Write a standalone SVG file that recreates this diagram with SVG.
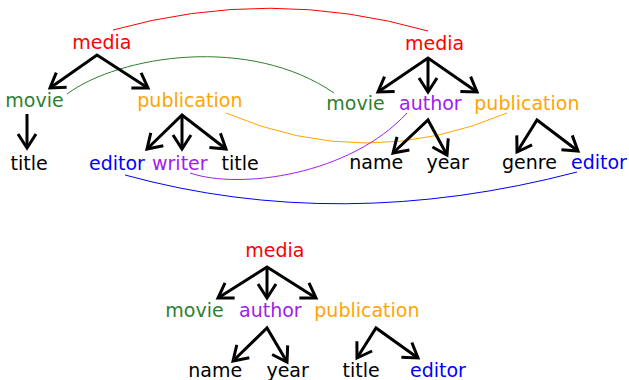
<svg xmlns="http://www.w3.org/2000/svg" width="629" height="380" viewBox="0 0 629 380">
<style>
text{font-family:"DejaVu Sans",sans-serif;font-size:19px}
.k{fill:#000}.r{fill:#ff0000}.g{fill:#2f7f2f}.o{fill:#ffa500}.p{fill:#a020f0}.b{fill:#0000ff}
.t{fill:none;stroke:#000;stroke-width:3;marker-start:url(#ah);marker-end:url(#ah)}
.s{fill:none;stroke:#000;stroke-width:3;marker-end:url(#ah)}
.c{fill:none;stroke-width:1}
</style>
<defs>
<marker id="ah" markerUnits="userSpaceOnUse" viewBox="-16 -11 18 22" refX="0" refY="0" markerWidth="18" markerHeight="22" orient="auto-start-reverse" overflow="visible">
<path d="M-14,-9 L0,0 L-14,9" fill="none" stroke="#000" stroke-width="3"/>
</marker>
</defs>
<g id="connectors">
<path class="c" stroke="#ff0000" d="M113,30 Q270,-14 428,31"/>
<path class="c" stroke="#2f7f2f" d="M67,94 C120,55 250,35 334,93"/>
<path class="c" stroke="#ffa500" d="M226,113 Q366,173 507,113"/>
<path class="c" stroke="#a020f0" d="M190,173 C240,190 350,175 407,113"/>
<path class="c" stroke="#0000ff" d="M125,175 Q340,234 577,172"/>
<g id="edges">
<path class="t" d="M50,88 L97,55 L148,88"/>
<path class="s" d="M27,114 L27,148"/>
<path class="t" d="M147,149 L182,115 L226,149"/>
<path class="s" d="M182,115 L182,149"/>
<path class="t" d="M378,92 L428,58 L477,92"/>
<path class="s" d="M428,58 L428,92"/>
<path class="t" d="M393,153 L428,120 L447,155"/>
<path class="t" d="M517,152 L537,120 L578,151"/>
<path class="t" d="M218,298 L267,267 L316,298"/>
<path class="s" d="M267,267 L267,298"/>
<path class="t" d="M233,361 L267,328 L287,362"/>
<path class="t" d="M357,358 L376,328 L418,358"/>
</g>
</g>
<g id="tree1">
<g id="t1-media"><text class="r" x="72.3" y="49">media</text></g>
<g id="t1-movie"><text class="g" x="5.3" y="107">movie</text></g>
<g id="t1-publication"><text class="o" x="137.3" y="107">publication</text></g>
<g id="t1-movie-title"><text class="k" x="10.5" y="169.5">title</text></g>
<g id="t1-editor"><text class="b" x="89" y="169.5">editor</text></g>
<g id="t1-writer"><text class="p" x="152" y="169.5">writer</text></g>
<g id="t1-pub-title"><text class="k" x="221.5" y="169.5">title</text></g>
</g>
<g id="tree2">
<g id="t2-media"><text class="r" x="405" y="49.5">media</text></g>
<g id="t2-movie"><text class="g" x="326.3" y="110">movie</text></g>
<g id="t2-author"><text class="p" x="399" y="110">author</text></g>
<g id="t2-publication"><text class="o" x="474.3" y="110">publication</text></g>
<g id="t2-name"><text class="k" x="349.3" y="168.5">name</text></g>
<g id="t2-year"><text class="k" x="426.4" y="168.5">year</text></g>
<g id="t2-genre"><text class="k" x="502" y="168.5">genre</text></g>
<g id="t2-editor"><text class="b" x="571" y="168.5">editor</text></g>
</g>
<g id="tree3">
<g id="t3-media"><text class="r" x="245.3" y="257">media</text></g>
<g id="t3-movie"><text class="g" x="165.3" y="317">movie</text></g>
<g id="t3-author"><text class="p" x="239" y="317">author</text></g>
<g id="t3-publication"><text class="o" x="314.3" y="317">publication</text></g>
<g id="t3-name"><text class="k" x="188.3" y="377">name</text></g>
<g id="t3-year"><text class="k" x="266.4" y="377">year</text></g>
<g id="t3-title"><text class="k" x="342.5" y="377">title</text></g>
<g id="t3-editor"><text class="b" x="410" y="377">editor</text></g>
</g>
</svg>
